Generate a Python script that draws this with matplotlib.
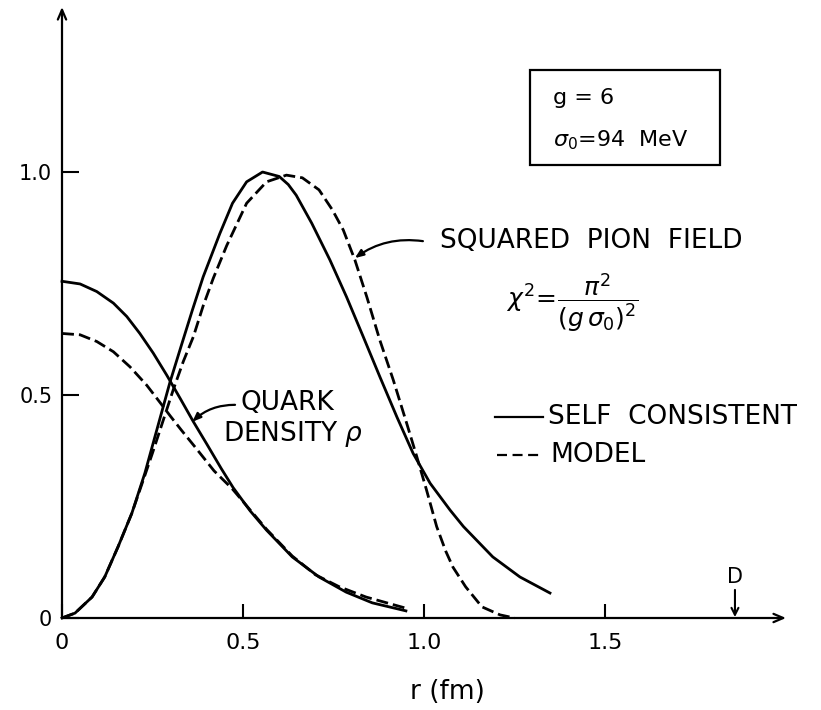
import matplotlib
matplotlib.use('Agg')
from matplotlib import pyplot
from matplotlib.patches import Rectangle

pyplot.rcParams['font.family'] = ['DejaVu Sans']
pyplot.rcParams['mathtext.fontset'] = 'dejavusans'

# radius in fm
quark_sc_r = [0, 0.05, 0.096, 0.142, 0.179, 0.215, 0.252, 0.289, 0.326, 0.363, 0.40, 0.44,
              0.473, 0.52, 0.565, 0.636, 0.71, 0.785, 0.857, 0.95]
quark_sc = [0.755, 0.749, 0.732, 0.706, 0.676, 0.638, 0.594, 0.545, 0.493, 0.44, 0.39, 0.335,
            0.292, 0.24, 0.197, 0.137, 0.092, 0.058, 0.034, 0.016]

quark_model_r = [0, 0.05, 0.096, 0.142, 0.188, 0.234, 0.271, 0.30, 0.33, 0.367, 0.42, 0.47,
                 0.52, 0.565, 0.636, 0.70, 0.766, 0.84, 0.95]
quark_model = [0.638, 0.635, 0.620, 0.597, 0.563, 0.522, 0.483, 0.452, 0.421, 0.384, 0.33, 0.29,
               0.242, 0.199, 0.139, 0.097, 0.07, 0.047, 0.022]

pion_sc_r = [0, 0.036, 0.083, 0.118, 0.155, 0.193, 0.229, 0.262, 0.298, 0.33, 0.36, 0.39, 0.436,
             0.471, 0.51, 0.554, 0.60, 0.625, 0.647, 0.69, 0.740, 0.786, 0.832, 0.878, 0.925,
             0.970, 1.017, 1.072, 1.109, 1.19, 1.265, 1.348]
pion_sc = [0, 0.011, 0.047, 0.092, 0.16, 0.235, 0.325, 0.422, 0.528, 0.612, 0.69, 0.765, 0.862,
           0.93, 0.978, 1.0, 0.99, 0.972, 0.948, 0.885, 0.803, 0.720, 0.631, 0.541, 0.451,
           0.369, 0.302, 0.242, 0.205, 0.137, 0.092, 0.056]

pion_model_r = [0, 0.036, 0.083, 0.118, 0.155, 0.193, 0.229, 0.25, 0.271, 0.307, 0.335, 0.363,
                0.39, 0.418, 0.455, 0.51, 0.565, 0.62, 0.664, 0.71, 0.747, 0.777, 0.809, 0.842,
                0.878, 0.915, 0.952, 0.980, 1.007, 1.035, 1.06, 1.08, 1.115, 1.16, 1.21, 1.25]
pion_model = [0, 0.011, 0.047, 0.092, 0.16, 0.235, 0.32, 0.37, 0.422, 0.511, 0.575, 0.631,
              0.70, 0.762, 0.835, 0.93, 0.978, 0.993, 0.987, 0.96, 0.915, 0.87, 0.803, 0.72,
              0.623, 0.534, 0.437, 0.362, 0.287, 0.205, 0.15, 0.114, 0.07, 0.025, 0.007, 0]

xticks = [0, 0.5, 1.0, 1.5]
xtick_labels = ['0', '0.5', '1.0', '1.5']
yticks = [0, 0.5, 1.0]
ytick_labels = ['0', '0.5', '1.0']

D_pos = 1.859

DASH = (4.3, 1.8)


def main():
	fig = pyplot.figure(figsize=(8.21, 7.10), dpi=100)
	ax = fig.add_axes([62 / 821, 92 / 710, 724 / 821, 611 / 710])
	ax.set_xlim(0, 2.0)
	ax.set_ylim(0, 1.37)
	for s in ax.spines.values():
		s.set_visible(False)

	# axes drawn as arrows
	ax.annotate('', xy=(2.0, 0), xytext=(0, 0), annotation_clip=False,
		arrowprops=dict(arrowstyle='->,head_length=0.7,head_width=0.3', lw=1.6, color='k', shrinkA=0, shrinkB=0))
	ax.annotate('', xy=(0, 1.37), xytext=(0, 0), annotation_clip=False,
		arrowprops=dict(arrowstyle='->,head_length=0.7,head_width=0.3', lw=1.6, color='k', shrinkA=0, shrinkB=0))

	ax.set_xticks(xticks)
	ax.set_xticklabels(xtick_labels, fontsize=16)
	ax.set_yticks(yticks)
	ax.set_yticklabels(ytick_labels, fontsize=15)
	ax.tick_params(axis='x', direction='in', length=10, width=1.5, pad=11)
	ax.tick_params(axis='y', direction='in', length=12, width=1.5, pad=7)

	ax.plot(quark_sc_r, quark_sc, color='k', lw=2.0, clip_on=False)
	ax.plot(quark_model_r, quark_model, color='k', lw=2.0, dashes=DASH, clip_on=False)
	ax.plot(pion_sc_r, pion_sc, color='k', lw=2.0, clip_on=False)
	ax.plot(pion_model_r, pion_model, color='k', lw=2.0, dashes=DASH, clip_on=False)

	ax.text(1.064, -0.166, 'r (fm)', fontsize=19, ha='center', va='center')

	# parameter box
	ax.add_patch(Rectangle((1.293, 1.016), 0.525, 0.213, fill=False, lw=1.6, ec='k'))
	ax.text(1.356, 1.166, 'g = 6', fontsize=16, va='center')
	ax.text(1.356, 1.072, r'$\sigma_0$=94  MeV', fontsize=16, va='center')

	ax.text(1.044, 0.845, 'SQUARED  PION  FIELD', fontsize=19, va='center')
	ax.text(1.409, 0.706, r'$\chi^2\!=\!\dfrac{\pi^2}{(g\,\sigma_0)^2}$', fontsize=18, ha='center', va='center')
	ax.annotate('', xy=(0.809, 0.807), xytext=(0.997, 0.845),
		arrowprops=dict(arrowstyle='-|>,head_length=0.5,head_width=0.2', lw=1.6, color='k',
			connectionstyle='arc3,rad=0.2', shrinkA=0, shrinkB=0))

	ax.text(0.492, 0.482, 'QUARK', fontsize=19, va='center')
	ax.text(0.445, 0.413, r'DENSITY $\rho$', fontsize=19, va='center')
	ax.annotate('', xy=(0.36, 0.44), xytext=(0.478, 0.478),
		arrowprops=dict(arrowstyle='-|>,head_length=0.5,head_width=0.2', lw=1.6, color='k',
			connectionstyle='arc3,rad=0.2', shrinkA=0, shrinkB=0))

	# legend
	ax.plot([1.196, 1.329], [0.451, 0.451], color='k', lw=1.6)
	ax.text(1.343, 0.451, 'SELF  CONSISTENT', fontsize=19, va='center')
	ax.plot([1.202, 1.329], [0.365, 0.365], color='k', lw=1.6, dashes=(4.5, 2.5))
	ax.text(1.348, 0.365, 'MODEL', fontsize=19, va='center')

	# D marker
	ax.text(D_pos, 0.092, 'D', fontsize=15, ha='center', va='center')
	ax.annotate('', xy=(D_pos, 0.002), xytext=(D_pos, 0.063),
		arrowprops=dict(arrowstyle='->,head_length=0.5,head_width=0.25', lw=1.5, color='k', shrinkA=0, shrinkB=0))

	fig.savefig('out.png', dpi=100)


if __name__ == '__main__':
	main()
